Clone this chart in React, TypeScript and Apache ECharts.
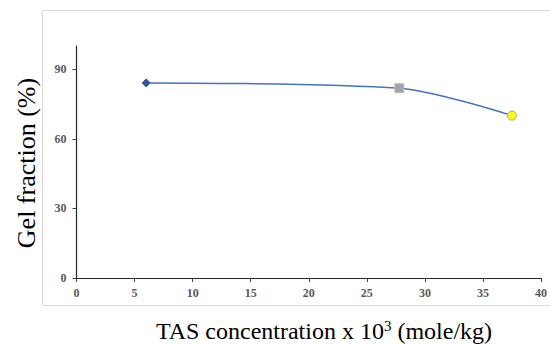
import React, { useEffect, useRef } from "react";
import * as echarts from "echarts";

const xValues = [6, 27.8, 37.5];
const yValues = [84.1, 81.8, 70];
const symbols = ["diamond", "rect", "circle"];
const symbolSizes = [8, 9, 9];
const symbolColors = ["#2F5597", "#A5A5A5", "#FFFF00"];
const symbolBorders = ["#2F5597", "#BFBFBF", "#A5A5A5"];
const yTicks = [0, 30, 60, 90];

export default function App() {
  const ref = useRef<HTMLDivElement>(null);
  useEffect(() => {
    if (!ref.current) return;
    const chart = echarts.init(ref.current, null, { renderer: "svg" });
    const font = "Liberation Serif";
    const labelStyle = {
      fontFamily: font,
      fontWeight: "bold" as const,
      fontSize: 12,
      color: "#595959",
    };
    chart.setOption({
      animation: false,
      backgroundColor: "#ffffff",
      graphic: [
        {
          type: "rect",
          shape: { x: 42.5, y: 10.5, width: 520, height: 295 },
          style: { fill: "none", stroke: "#D9D9D9", lineWidth: 1 },
          z: -1,
        },
        {
          type: "text",
          x: 324,
          y: 331,
          style: {
            text: "{n|TAS concentration x 10}{s|3}{n| (mole/kg)}",
            align: "center",
            verticalAlign: "middle",
            rich: {
              n: { fontFamily: font, fontSize: 24, fill: "#000000" },
              s: { fontFamily: font, fontSize: 15, fill: "#000000", verticalAlign: "top", padding: [0, 0, 10, 0] },
            },
          },
        },
        {
          type: "text",
          x: 26,
          y: 163,
          rotation: Math.PI / 2,
          style: {
            text: "Gel fraction (%)",
            align: "center",
            verticalAlign: "middle",
            fontFamily: font,
            fontSize: 26,
            fill: "#000000",
          },
        },
      ],
      grid: { left: 76.5, right: 6, top: 46, bottom: 66, containLabel: false },
      xAxis: {
        type: "value",
        min: 0,
        max: 40,
        interval: 5,
        splitLine: { show: false },
        axisLine: { lineStyle: { color: "#262626", width: 1.2 } },
        axisTick: { show: true, inside: false, length: 4, lineStyle: { color: "#404040" } },
        axisLabel: { ...labelStyle, margin: 9 },
      },
      yAxis: {
        type: "value",
        min: 0,
        max: 100,
        splitLine: { show: false },
        axisLine: { show: true, lineStyle: { color: "#262626", width: 1.2 } },
        axisTick: { show: true, inside: false, length: 4, customValues: yTicks, lineStyle: { color: "#404040" } },
        axisLabel: { ...labelStyle, margin: 10, customValues: yTicks },
      },
      series: [
        {
          type: "line",
          smooth: 0.3,
          data: xValues.map((x, i) => ({
            value: [x, yValues[i]],
            symbol: symbols[i],
            symbolSize: symbolSizes[i],
            itemStyle: { color: symbolColors[i], borderColor: symbolBorders[i], borderWidth: 1 },
          })),
          lineStyle: { color: "#4472C4", width: 1.5 },
          showSymbol: true,
        },
      ],
    });
    return () => chart.dispose();
  }, []);
  return (
    <div
      ref={ref}
      style={{ position: "fixed", left: 0, top: 0, width: 550, height: 344, background: "#fff" }}
    />
  );
}
